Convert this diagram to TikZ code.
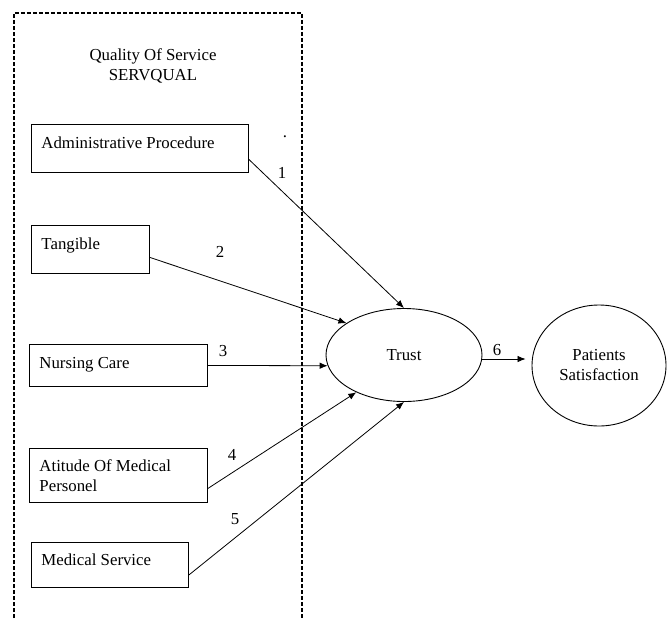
\documentclass[tikz,border=0pt]{standalone}
\usepackage{fontspec}
\setmainfont{Liberation Serif}
\usepackage{tikz}
\usetikzlibrary{shapes.geometric}
\usetikzlibrary{arrows.meta}

\begin{document}
\begin{tikzpicture}[
    x=1pt, y=-1pt,
    every node/.style={font=\fontsize{16.8}{20}\selectfont},
    dimbox/.style={draw, line width=0.9pt, anchor=north west, align=flush left,
        inner xsep=10pt, inner ysep=0pt},
    latent/.style={draw, line width=0.9pt, ellipse, align=center, inner sep=0pt},
    path/.style={-{Latex[length=8pt,width=6.5pt]}, line width=0.8pt}
]
\useasboundingbox (0,0) rectangle (668,618);
\draw [line width=2pt, dash pattern=on 4pt off 2pt] (14,618) -- (14,13) -- (302,13) -- (302,618);
\node at (153,66) [align=center] (title) {Quality Of Service\\ SERVQUAL};
\node at (285,137) (dot) {.};
\node at (31,124) [dimbox, text width=197pt, text height=24pt, text depth=24pt] (adm) {Administrative Procedure};
\node at (31,225) [dimbox, text width=98pt, text height=24pt, text depth=24pt] (tan) {Tangible};
\node at (29,344) [dimbox, text width=158pt, text height=24pt, text depth=18pt] (nur) {Nursing Care};
\node at (29,448) [dimbox, text width=158pt, minimum height=54pt] (att) {Atitude Of Medical\\ Personel};
\node at (31,542) [dimbox, text width=137pt, text height=23pt, text depth=22pt] (med) {Medical Service};
\node at (404,355) [latent, minimum width=156pt, minimum height=93pt] (trust) {Trust};
\node at (599,365.5) [latent, minimum width=134pt, minimum height=121pt] (sat) {Patients\\ Satisfaction};
\node at (282,173) (n1) {1};
\node at (220,252) (n2) {2};
\node at (223,351) (n3) {3};
\node at (232,455) (n4) {4};
\node at (235,519) (n5) {5};
\node at (497,350) (n6) {6};
\draw [path] ([yshift=-11pt]adm.east) -- (trust.north);
\draw [path] ([yshift=-8pt]tan.east) -- (trust.151);
\draw [path] (nur.east) -- (trust.188);
\draw [path] ([yshift=-13pt]att.east) -- (trust.218);
\draw [path] ([yshift=-10pt]med.east) -- (trust.south);
\draw [path, shorten >=6pt] ([yshift=-4pt]trust.east) -- ([yshift=6.5pt]sat.west);
\end{tikzpicture}
\end{document}
